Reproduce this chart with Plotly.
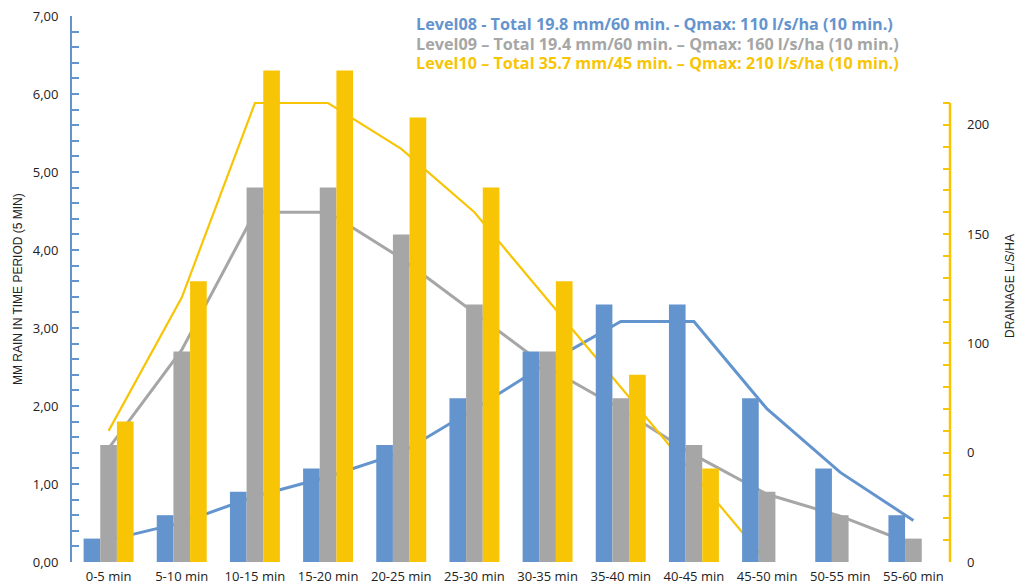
import plotly.graph_objects as go

categories = ["0-5 min", "5-10 min", "10-15 min", "15-20 min", "20-25 min", "25-30 min",
              "30-35 min", "35-40 min", "40-45 min", "45-50 min", "50-55 min", "55-60 min"]

# Rain per 5 min period (mm) - left axis
rain_level08 = [0.3, 0.6, 0.9, 1.2, 1.5, 2.1, 2.7, 3.3, 3.3, 2.1, 1.2, 0.6]
rain_level09 = [1.5, 2.7, 4.8, 4.8, 4.2, 3.3, 2.7, 2.1, 1.5, 0.9, 0.6, 0.3]
rain_level10 = [1.8, 3.6, 6.3, 6.3, 5.7, 4.8, 3.6, 2.4, 1.2, None, None, None]

# Drainage (l/s/ha) - right axis
drain_level08 = [10, 18, 30, 39, 50, 70, 91, 110, 110, 70, 41, 19]
drain_level09 = [52, 97, 160, 160, 139, 114, 89, 70, 49, 31, 21, 8]
drain_level10 = [60, 121, 210, 210, 189, 160, 120, 80, 40, 0, None, None]

right_tickvals = [0, 50, 100, 150, 200]
right_ticktext = ["0", "0", "100", "150", "200"]

titles = [
    "Level08 - Total 19.8 mm/60 min. - Qmax: 110 l/s/ha (10 min.)",
    "Level09 – Total 19.4 mm/60 min. – Qmax: 160 l/s/ha (10 min.)",
    "Level10 – Total 35.7 mm/45 min. – Qmax: 210 l/s/ha (10 min.)",
]

BLUE = "#6494CE"
GRAY = "#A5A6A5"
YELLOW = "#F7C505"
colors = [BLUE, GRAY, YELLOW]

fig = go.Figure()

# Lines (drawn on the base axis, below the bars)
for vals, c, w in zip([drain_level08, drain_level09, drain_level10], colors, [3, 3, 2.2]):
    fig.add_trace(go.Scatter(x=categories, y=vals, mode="lines", yaxis="y",
                             line=dict(color=c, width=w), showlegend=False,
                             connectgaps=False, hoverinfo="skip"))

# Bars on the overlaying axis (drawn above the lines)
for vals, c in zip([rain_level08, rain_level09, rain_level10], colors):
    fig.add_trace(go.Bar(x=categories, y=vals, yaxis="y2", marker=dict(color=c, line=dict(width=0)),
                         showlegend=False))

PLOT_L, PLOT_R, PLOT_T, PLOT_B = 72, 950, 16, 562
W, H = 1018, 587
plot_w = PLOT_R - PLOT_L
plot_h = PLOT_B - PLOT_T
right_max = 210 * plot_h / (PLOT_B - 103)

def px_x(px):
    return (px - PLOT_L) / plot_w

def px_y(py):
    return (PLOT_B - py) / plot_h

TICKFONT = dict(family="Open Sans", size=13, color="#222")

annotations = []
for t, c, py in zip(titles, colors, [24, 44, 63]):
    annotations.append(dict(text="<b>" + t + "</b>", x=px_x(414), y=px_y(py), xref="paper", yref="paper",
                            xanchor="left", yanchor="middle", showarrow=False,
                            font=dict(family="Open Sans", size=16.2, color=c)))
annotations.append(dict(text="MM RAIN IN TIME PERIOD (5 MIN)", x=px_x(18), y=px_y(289),
                        xref="paper", yref="paper", textangle=-90, showarrow=False,
                        xanchor="center", yanchor="middle",
                        font=dict(family="Liberation Sans", size=12, color="#222")))
annotations.append(dict(text="DRAINAGE L/S/HA", x=px_x(1010), y=px_y(286),
                        xref="paper", yref="paper", textangle=-90, showarrow=False,
                        xanchor="center", yanchor="middle",
                        font=dict(family="Liberation Sans", size=12, color="#222")))

fig.update_layout(
    width=W, height=H,
    margin=dict(l=PLOT_L, r=W - PLOT_R, t=PLOT_T, b=H - PLOT_B, autoexpand=False),
    paper_bgcolor="white", plot_bgcolor="white",
    barmode="group", bargap=0.317, bargroupgap=0,
    separators=",.",
    font=dict(family="Open Sans", color="#222"),
    xaxis=dict(type="category", categoryorder="array", categoryarray=categories,
               showline=False, showgrid=False, zeroline=False, ticks="", automargin=False,
               tickfont=TICKFONT, ticklabelstandoff=5),
    yaxis=dict(side="right", range=[0, right_max], showline=False, showgrid=False, zeroline=False,
               automargin=False,
               tickmode="array", tickvals=right_tickvals, ticktext=right_ticktext,
               ticks="inside", ticklen=7, tickwidth=2, tickcolor=YELLOW,
               minor=dict(tickmode="array", tickvals=list(range(0, 211, 10)),
                          ticks="inside", ticklen=7, tickwidth=2, tickcolor=YELLOW),
               tickfont=TICKFONT, ticklabelstandoff=16),
    yaxis2=dict(overlaying="y", side="left", range=[0, 7], showline=True, linecolor=BLUE, linewidth=2,
                automargin=False,
                showgrid=False, zeroline=False, dtick=1, tick0=0, tickformat=".2f",
                ticks="inside", ticklen=7, tickwidth=2, tickcolor=BLUE,
                minor=dict(dtick=0.2, tick0=0, ticks="inside", ticklen=7, tickwidth=2, tickcolor=BLUE),
                tickfont=TICKFONT, ticklabelstandoff=9),
    annotations=annotations,
    shapes=[dict(type="line", xref="paper", yref="y", x0=1, x1=1, y0=0, y1=210,
                 line=dict(color=YELLOW, width=2.5))],
)

fig.write_html("out.html", config={"displayModeBar": False},
               post_script="document.body.style.margin='0px';document.body.style.overflow='hidden';")
